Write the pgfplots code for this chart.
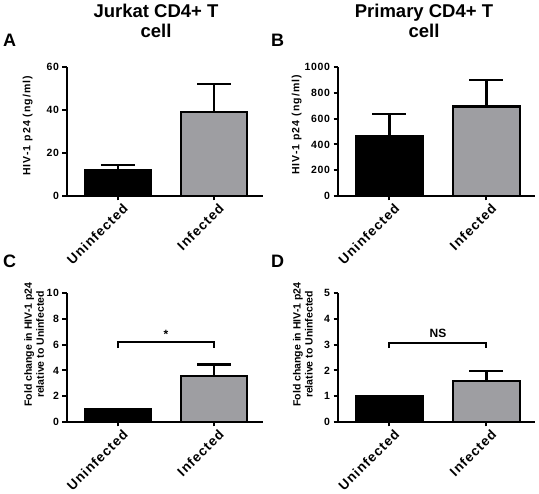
\documentclass[border=0pt]{standalone}
\usepackage{pgfplots}
\pgfplotsset{compat=1.18}
\usepackage{fontspec}
\setmainfont{Liberation Sans}
\newfontfamily\lsX{Liberation Sans}[LetterSpace=8]
\newfontfamily\lsY{Liberation Sans}[LetterSpace=10]
\newfontfamily\lsT{Liberation Sans}[LetterSpace=6]
\definecolor{bargray}{RGB}{158,158,162}
\pgfplotsset{
 panel/.style={
  scale only axis, axis lines=left, axis line style={-, line width=2pt, black},
  xtick={0,1}, xticklabels={Uninfected,Infected},
  xticklabel style={rotate=45, anchor=east, xshift=5pt, yshift=-9pt, font=\lsX\bfseries\fontsize{13.5}{14}\selectfont},
  yticklabel style={font=\lsT\bfseries\fontsize{10.5}{12}\selectfont},
  /pgf/number format/assume math mode=true, /pgf/number format/1000 sep={},
  tick align=outside, major tick length=4.5pt, tick style={line width=2pt, black},
  ymin=0, enlarge x limits=false, enlarge y limits=false,
  scaled y ticks=false, clip=false,
  ylabel style={font=\bfseries\fontsize{10.5}{12}\selectfont, align=center, anchor=center},
 },
 barU/.style={ybar, bar shift=0pt, bar width=0.69, fill=black, draw=black, line width=2.4pt,
   error bars/.cd, y dir=plus, y explicit, error bar style={line width=2.2pt, black},
   error mark options={rotate=90, mark size=17pt, line width=2.2pt, black}},
 barI/.style={ybar, bar shift=0pt, bar width=0.69, fill=bargray, draw=black, line width=2.4pt,
   error bars/.cd, y dir=plus, y explicit, error bar style={line width=2.2pt, black},
   error mark options={rotate=90, mark size=17pt, line width=2.2pt, black}},
}
\begin{document}
\begin{tikzpicture}
\path[use as bounding box] (0,0) rectangle (539pt,494pt);
% titles and panel letters
\node[anchor=base, font=\fontsize{18.5}{22}\selectfont\bfseries] at (156pt,476pt) {Jurkat CD4+ T};
\node[anchor=base, font=\fontsize{18.5}{22}\selectfont\bfseries] at (156pt,456pt) {cell};
\node[anchor=base, font=\fontsize{18.5}{22}\selectfont\bfseries] at (424pt,476pt) {Primary CD4+ T};
\node[anchor=base, font=\fontsize{18.5}{22}\selectfont\bfseries] at (424pt,456pt) {cell};
\node[anchor=base west, inner sep=0pt, font=\fontsize{18}{22}\selectfont\bfseries] at (3pt,447pt) {A};
\node[anchor=base west, inner sep=0pt, font=\fontsize{18}{22}\selectfont\bfseries] at (271pt,447pt) {B};
\node[anchor=base west, inner sep=0pt, font=\fontsize{18}{22}\selectfont\bfseries] at (3pt,226pt) {C};
\node[anchor=base west, inner sep=0pt, font=\fontsize{18}{22}\selectfont\bfseries] at (271pt,226pt) {D};

% Panel A
\begin{axis}[panel, at={(67pt,298pt)}, anchor=south west, width=196pt, height=129pt,
  xmin=-0.53, xmax=1.51, ymax=60, ytick={0,20,40,60},
  ylabel={HIV-1 p24 (ng/ml)}, ylabel style={font=\lsY\bfseries\fontsize{10.5}{12}\selectfont, at={(axis description cs:-0.20,0.545)}}]
\addplot[barU] coordinates {(0,12) +- (0,2.4)};
\addplot[barI] coordinates {(1,39) +- (0,13)};
\end{axis}

% Panel B
\begin{axis}[panel, at={(338pt,298pt)}, anchor=south west, width=197pt, height=129pt,
  xmin=-0.53, xmax=1.5, ymax=1000, ytick={0,200,400,600,800,1000},
  ylabel={HIV-1 p24 (ng/ml)}, ylabel style={font=\lsY\bfseries\fontsize{10.5}{12}\selectfont, at={(axis description cs:-0.21,0.55)}}]
\addplot[barU] coordinates {(0,466) +- (0,171)};
\addplot[barI] coordinates {(1,695) +- (0,205)};
\end{axis}

% Panel C
\begin{axis}[panel, at={(67pt,72pt)}, anchor=south west, width=196pt, height=129pt,
  xmin=-0.53, xmax=1.51, ymax=10, ytick={0,2,4,6,8,10},
  ylabel={Fold change in HIV-1 p24\\relative to Uninfected}, ylabel style={at={(axis description cs:-0.168,0.6)}}]
\addplot[barU] coordinates {(0,1.0)};
\addplot[barI] coordinates {(1,3.55) +- (0,0.9)};
\addplot[sharp plot, black, line width=2pt, mark=none] coordinates {(0,5.72) (0,6.2) (1,6.2) (1,5.72)};
\node[font=\fontsize{12}{13}\selectfont\bfseries] at (axis cs:0.5,6.8) {*};
\end{axis}

% Panel D
\begin{axis}[panel, at={(338pt,72pt)}, anchor=south west, width=197pt, height=129pt,
  xmin=-0.53, xmax=1.5, ymax=5, ytick={0,1,2,3,4,5},
  ylabel={Fold change in HIV-1 p24\\relative to Uninfected}, ylabel style={at={(axis description cs:-0.178,0.6)}}]
\addplot[barU] coordinates {(0,1.0)};
\addplot[barI] coordinates {(1,1.58) +- (0,0.4)};
\addplot[sharp plot, black, line width=2pt, mark=none] coordinates {(0,2.86) (0,3.07) (1,3.07) (1,2.86)};
\node[font=\fontsize{12}{13}\selectfont\bfseries] at (axis cs:0.5,3.44) {NS};
\end{axis}
\end{tikzpicture}
\end{document}
